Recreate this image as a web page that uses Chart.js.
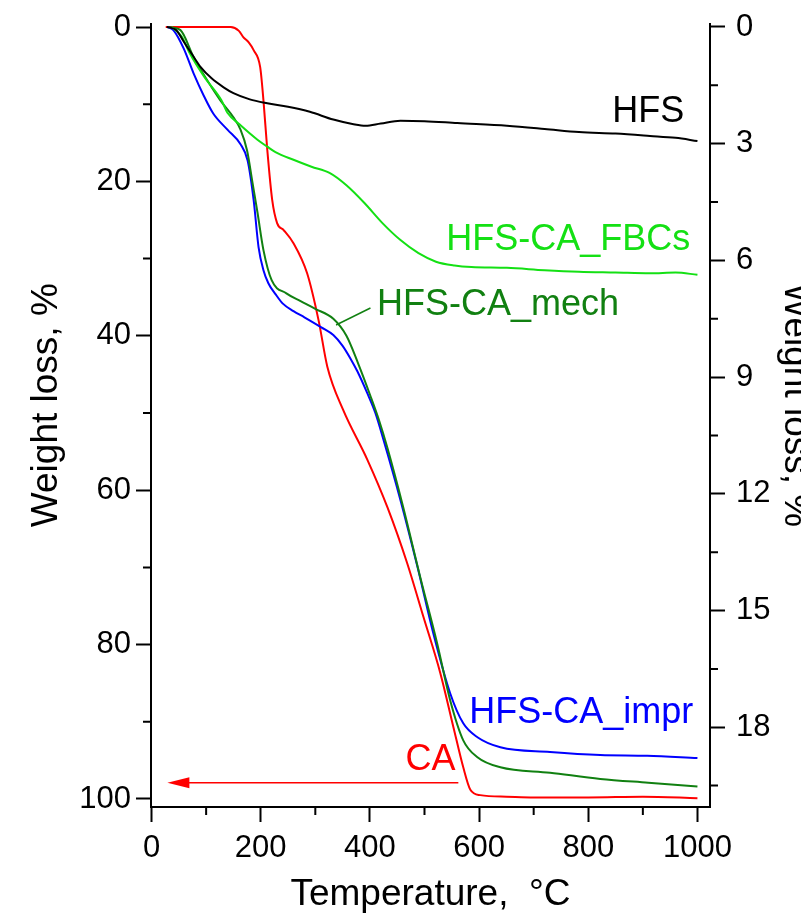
<!DOCTYPE html>
<html lang="en">
<head>
<meta charset="UTF-8">
<title>TGA weight loss</title>
<script src="https://cdn.jsdelivr.net/npm/chart.js"></script>
<style>
  html, body { margin: 0; padding: 0; overflow: hidden; background: #fff; }
</style>
</head>
<body>
<canvas id="tga" width="830" height="918"></canvas>
<script>
// temperature, °C  /  weight loss, %
const hfsT    = [28, 45, 60, 75, 90, 110, 132, 150, 180, 212, 250, 290, 333, 370, 392, 420, 456, 500, 560, 651, 720, 783, 850, 913, 960, 1000];
const hfsLoss = [0, 0.08, 0.4, 0.72, 1.03, 1.32, 1.55, 1.7, 1.86, 1.96, 2.05, 2.18, 2.38, 2.5, 2.54, 2.48, 2.41, 2.42, 2.47, 2.54, 2.62, 2.7, 2.74, 2.8, 2.85, 2.93]; // right axis

const fbcT    = [37, 55, 70, 97, 128, 139, 161, 194, 212, 227, 260, 293, 326, 357, 390, 423, 456, 489, 521, 555, 586, 651, 720, 783, 850, 913, 960, 1000];
const fbcLoss = [0, 1.2, 3.4, 6.5, 9.5, 11.1, 12.6, 14.6, 15.5, 16.2, 17.2, 18.1, 18.9, 20.5, 22.8, 25.4, 27.6, 29.3, 30.4, 30.9, 31.1, 31.2, 31.5, 31.7, 31.8, 31.9, 31.8, 32.1];

const mechT    = [32, 53, 77, 102, 126, 150, 163, 175, 185, 194, 205, 220, 247, 273, 300, 333, 357, 378, 401, 417, 432, 461, 492, 523, 547, 571, 597, 639, 730, 822, 910, 1000];
const mechLoss = [0, 0.4, 3.9, 6.9, 9.5, 11.7, 13.3, 16, 20.2, 24, 28.9, 32.8, 34.5, 35.5, 36.5, 37.8, 40.0, 43.5, 47.8, 51, 54.5, 62.2, 71.2, 79.8, 87.2, 92.4, 94.6, 95.9, 96.6, 97.4, 97.9, 98.4];

const imprT    = [30, 40, 59, 77, 95, 113, 139, 163, 176, 187, 196, 205, 214, 227, 240, 260, 280, 311, 333, 350, 364, 377, 395, 410, 425, 456, 487, 516, 547, 571, 597, 639, 730, 822, 908, 1000];
const imprLoss = [0, 0.4, 2.8, 6, 8.8, 11.2, 13.3, 15.2, 17.3, 22.4, 28.5, 31.5, 33.2, 34.6, 35.8, 36.8, 37.6, 38.9, 39.9, 41.3, 42.9, 44.6, 47.4, 50, 53.5, 61.3, 69.9, 78.5, 86.3, 90.2, 92, 93.3, 93.9, 94.3, 94.4, 94.7];

const caT    = [26, 100, 145, 160, 168, 178, 187, 199, 205, 212, 221, 230, 242, 260, 285, 306, 322, 351, 395, 432, 468, 498, 529, 553, 571, 584, 602, 650, 700, 800, 900, 1000];
const caLoss = [0, 0, 0, 0.5, 1.3, 2.0, 3.0, 5.2, 9.5, 15.9, 22.4, 25.4, 26.3, 28, 31.9, 38, 44, 49.6, 56, 62.2, 69.4, 76.4, 83.7, 90.7, 95.9, 98.8, 99.5, 99.7, 99.8, 99.8, 99.7, 99.9];

const xTicks     = [0, 200, 400, 600, 800, 1000];
const xMinor     = [100, 300, 500, 700, 900];
const leftTicks  = [0, 20, 40, 60, 80, 100];
const leftMinor  = [10, 30, 50, 70, 90];
const rightTicks = [0, 3, 6, 9, 12, 15, 18];
const rightMinor = [1.5, 4.5, 7.5, 10.5, 13.5, 16.5, 19.5];

const FONT = '"Liberation Sans", Arial, sans-serif';

const pts = (xs, ys) => xs.map((x, i) => ({ x: x, y: ys[i] }));
const curve = (label, xs, ys, color, axis) => ({
  label: label,
  data: pts(xs, ys),
  borderColor: color,
  borderWidth: 2,
  pointRadius: 0,
  fill: false,
  cubicInterpolationMode: 'monotone',
  yAxisID: axis
});

// text on the plot, anchored in data units (T, left-axis %)
const notes = [
  { text: 'HFS',         t: 844, w: 12.3, color: '#000000' },
  { text: 'HFS-CA_FBCs', t: 540, w: 28.9, color: '#14e014' },
  { text: 'HFS-CA_mech', t: 413, w: 37.3, color: '#118011' },
  { text: 'HFS-CA_impr', t: 582, w: 90.2, color: '#0000ff' },
  { text: 'CA',          t: 465, w: 96.2, color: '#ff0000' }
];

const extras = {
  id: 'extras',
  afterDraw(chart) {
    const ctx = chart.ctx;
    const sx = chart.scales.x, sy = chart.scales.y, sr = chart.scales.y2;
    const area = chart.chartArea;
    ctx.save();
    // minor ticks
    ctx.strokeStyle = '#000';
    ctx.lineWidth = 2;
    ctx.beginPath();
    xMinor.forEach(v => {
      const p = sx.getPixelForValue(v);
      ctx.moveTo(p, area.bottom); ctx.lineTo(p, area.bottom + 8);
    });
    leftMinor.forEach(v => {
      const p = sy.getPixelForValue(v);
      ctx.moveTo(area.left, p); ctx.lineTo(area.left - 8, p);
    });
    rightMinor.forEach(v => {
      const p = sr.getPixelForValue(v);
      ctx.moveTo(area.right, p); ctx.lineTo(area.right + 8, p);
    });
    ctx.stroke();

    // curve names
    ctx.font = '36px ' + FONT;
    ctx.textAlign = 'left';
    ctx.textBaseline = 'alphabetic';
    notes.forEach(n => {
      ctx.fillStyle = n.color;
      ctx.fillText(n.text, sx.getPixelForValue(n.t), sy.getPixelForValue(n.w));
    });

    // leader line to the mech curve
    ctx.strokeStyle = '#118011';
    ctx.lineWidth = 1.5;
    ctx.beginPath();
    ctx.moveTo(sx.getPixelForValue(338), sy.getPixelForValue(38.6));
    ctx.lineTo(sx.getPixelForValue(401), sy.getPixelForValue(36.4));
    ctx.stroke();

    // CA arrow -> left axis
    const ay = sy.getPixelForValue(97.9);
    const x0 = sx.getPixelForValue(562), x1 = sx.getPixelForValue(29);
    ctx.strokeStyle = '#ff0000';
    ctx.fillStyle = '#ff0000';
    ctx.lineWidth = 1.5;
    ctx.beginPath();
    ctx.moveTo(x0, ay); ctx.lineTo(x1 + 18, ay);
    ctx.stroke();
    ctx.beginPath();
    ctx.moveTo(x1, ay);
    ctx.lineTo(x1 + 22, ay - 5.5);
    ctx.lineTo(x1 + 22, ay + 5.5);
    ctx.closePath();
    ctx.fill();
    ctx.restore();
  }
};

const axisBase = {
  grid: { drawOnChartArea: false, tickLength: 15, tickWidth: 2, tickColor: '#000' },
  border: { display: true, color: '#000', width: 2 }
};
const tickFont = { family: FONT, size: 31 };
const titleFont = { family: FONT, size: 37 };

new Chart(document.getElementById('tga'), {
  type: 'line',
  data: {
    datasets: [
      curve('HFS', hfsT, hfsLoss, '#000000', 'y2'),
      curve('HFS-CA_FBCs', fbcT, fbcLoss, '#14e014', 'y'),
      curve('HFS-CA_mech', mechT, mechLoss, '#118011', 'y'),
      curve('HFS-CA_impr', imprT, imprLoss, '#0000ff', 'y'),
      curve('CA', caT, caLoss, '#ff0000', 'y')
    ]
  },
  options: {
    responsive: false,
    animation: false,
    layout: { padding: { top: 24, left: 0, right: 0, bottom: 0 } },
    plugins: { legend: { display: false }, tooltip: { enabled: false } },
    scales: {
      x: {
        ...axisBase,
        type: 'linear',
        min: -1,
        max: 1023,
        afterBuildTicks: s => { s.ticks = xTicks.map(v => ({ value: v })); },
        afterFit: s => { s.height = 111; s.paddingLeft = 0; s.paddingRight = 0; },
        ticks: { color: '#000', font: tickFont, padding: 8, maxRotation: 0, autoSkip: false, callback: v => String(v) },
        title: { display: true, text: 'Temperature,  °C', color: '#000', font: titleFont, padding: { top: 0, bottom: 1 } }
      },
      y: {
        ...axisBase,
        type: 'linear',
        position: 'left',
        reverse: true,
        min: -0.39,
        max: 101.04,
        afterBuildTicks: s => { s.ticks = leftTicks.map(v => ({ value: v })); },
        afterFit: s => { s.width = 151; s.paddingTop = 0; s.paddingBottom = 0; },
        ticks: { color: '#000', font: tickFont, padding: 5, autoSkip: false, callback: v => String(v) },
        title: { display: true, text: '  Weight loss, %', color: '#000', font: titleFont, padding: { top: 25, bottom: 0 } }
      },
      y2: {
        ...axisBase,
        type: 'linear',
        position: 'right',
        reverse: true,
        min: -0.077,
        max: 20.05,
        afterBuildTicks: s => { s.ticks = rightTicks.map(v => ({ value: v })); },
        afterFit: s => { s.width = 120; s.paddingTop = 0; s.paddingBottom = 0; },
        ticks: { color: '#000', font: tickFont, padding: 11, autoSkip: false, callback: v => String(v) },
        title: { display: true, text: 'Weight loss, %  ', color: '#000', font: titleFont, padding: { top: 13, bottom: 0 } }
      }
    }
  },
  plugins: [extras]
});
</script>
</body>
</html>
